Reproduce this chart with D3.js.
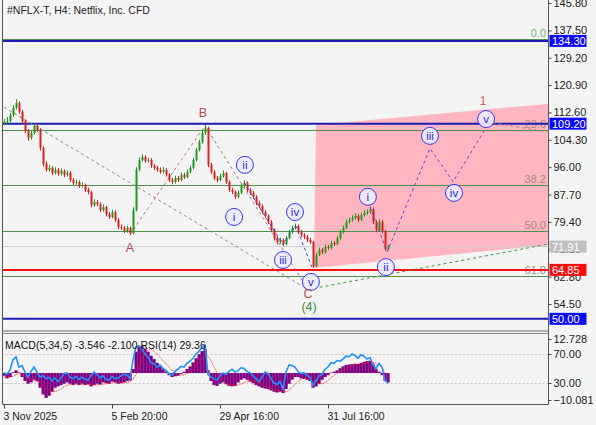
<!DOCTYPE html>
<html><head><meta charset="utf-8">
<script src="https://cdn.jsdelivr.net/npm/d3@7"></script>
<style>
body{margin:0;background:#f4f4f4;}
svg{display:block;font-family:"Liberation Sans",Arial,sans-serif;}
</style></head>
<body><svg id="c" width="596" height="425"></svg>
<script>
// ---------- DATA ----------
const firstOpen = 109.3;
const closes = [
109.7,110.0,111.8,114.0,115.5,112.8,110.0,107.0,104.9,106.4,
108.5,107.3,101.8,97.0,95.2,95.8,94.2,95.2,94.0,94.9,
93.7,94.3,92.1,91.2,91.5,90.3,90.6,89.1,88.5,84.5,
85.4,84.8,83.0,83.9,81.8,80.9,82.4,80.0,77.9,77.6,
76.6,77.6,76.0,83.0,95.2,98.2,99.1,97.9,98.2,96.4,
95.8,95.2,94.6,95.2,93.7,92.1,91.5,92.7,92.1,93.7,
93.0,94.6,95.8,98.2,101.2,103.6,106.4,107.9,96.7,94.6,
92.7,92.1,93.3,94.2,91.5,89.1,88.5,87.0,88.2,90.3,
91.2,89.1,88.2,87.0,85.1,84.2,82.4,81.2,79.4,76.9,
74.5,73.3,73.9,72.7,74.5,76.3,77.6,78.1,76.3,75.4,
74.8,73.9,73.3,66.0,69.4,70.9,70.2,71.8,71.5,73.0,
72.7,74.5,76.3,77.6,79.4,80.0,80.6,81.2,80.0,81.5,
82.1,82.4,83.3,79.4,76.9,79.4,76.6,71.2,71.91];
const highs = [
110.6,111.2,112.5,114.8,116.6,116.0,113.4,110.5,107.6,107.0,
109.3,109.0,107.8,102.3,97.8,96.7,96.3,96.0,95.8,95.6,
95.3,95.0,94.8,92.7,92.3,92.0,91.4,91.0,89.8,88.9,
86.3,86.0,85.3,84.7,84.3,82.4,83.1,82.9,80.5,78.6,
78.1,78.3,78.0,83.8,96.0,99.0,99.9,99.6,98.9,98.7,
97.0,96.4,95.9,96.0,95.7,94.2,92.7,93.4,93.3,94.4,
94.3,95.3,96.5,98.9,101.9,104.3,107.1,108.8,108.3,97.3,
95.1,93.4,94.0,95.0,94.6,92.0,89.8,89.0,88.9,91.0,
92.0,91.7,89.7,88.8,87.5,85.8,84.7,83.0,81.7,79.9,
77.4,75.1,74.6,74.4,75.2,77.0,78.3,78.9,78.6,76.9,
76.0,75.4,74.5,73.7,70.0,71.6,71.5,72.5,72.4,73.7,
73.6,75.2,77.0,78.3,80.1,80.8,81.4,82.0,81.8,82.2,
82.9,83.2,84.0,83.8,79.9,80.2,79.9,77.0,72.5];
const lows = [
108.7,109.2,109.6,111.3,113.5,112.2,109.2,106.3,104.0,104.4,
106.0,106.6,101.0,96.2,94.6,94.7,93.6,93.8,93.4,93.5,
93.0,93.2,91.5,90.6,90.7,89.7,89.8,88.5,87.8,83.8,
84.0,84.1,82.4,82.5,81.1,80.3,80.5,79.4,77.2,77.0,
76.0,76.1,75.4,75.6,82.6,94.8,97.7,97.3,97.4,95.8,
95.2,94.6,94.0,94.1,93.1,91.5,90.8,91.0,91.5,91.7,
92.4,92.6,94.1,95.4,97.8,100.8,103.1,105.8,96.0,94.0,
92.1,91.4,91.7,92.8,90.9,88.5,87.8,86.3,86.6,87.8,
89.8,88.5,87.6,86.4,84.5,83.6,81.8,80.6,78.8,76.3,
73.8,72.6,72.8,72.1,72.3,74.1,75.8,77.1,75.7,74.8,
74.2,73.3,72.7,65.4,65.6,69.0,69.6,69.8,70.9,71.0,
72.1,72.3,74.0,75.9,77.2,78.9,79.5,80.1,79.4,79.6,
81.0,81.6,81.9,78.8,76.3,76.5,76.0,70.6,70.8];
const macdHist = [
-1.0,-2.0,-1.5,0.3,1.0,0.2,-1.5,-3.0,-4.0,-3.5,
-2.5,-3.0,-5.5,-8.0,-9.3,-8.5,-7.0,-5.5,-5.0,-4.5,
-4.0,-3.5,-4.0,-4.5,-4.0,-4.5,-4.0,-4.5,-4.2,-5.0,
-4.5,-4.0,-4.3,-3.5,-3.8,-4.0,-3.2,-3.5,-4.0,-3.8,
-3.5,-3.0,-2.8,1.5,8.0,10.2,10.0,9.2,8.0,6.5,
5.2,3.8,2.5,1.5,0.5,-0.8,-1.5,-1.2,-1.0,-0.3,
0.5,1.5,2.5,4.0,5.5,7.0,8.2,9.0,1.0,-3.0,
-4.5,-4.8,-4.0,-3.5,-4.2,-4.8,-5.0,-4.8,-3.5,-2.5,
-2.0,-2.5,-3.2,-3.8,-4.5,-5.0,-5.5,-5.8,-6.0,-6.5,
-7.0,-7.3,-7.0,-7.5,-6.0,-4.0,-2.5,-1.5,-1.5,-2.0,
-2.2,-2.5,-3.0,-5.5,-5.0,-4.0,-2.5,-1.5,-0.8,0.2,
0.5,1.0,1.8,2.5,3.0,3.2,3.3,3.5,3.4,3.8,
4.2,4.5,4.6,3.5,1.5,0.5,-0.8,-3.0,-3.546];
const macdSignal = [
-1.5,-1.6,-1.6,-1.2,-0.6,-0.3,-0.4,-1.0,-1.8,-2.4,
-2.8,-3.1,-3.6,-4.5,-5.6,-6.5,-7.0,-6.9,-6.5,-5.9,
-5.2,-4.6,-4.3,-4.2,-4.1,-4.2,-4.2,-4.3,-4.3,-4.4,
-4.4,-4.4,-4.4,-4.2,-4.0,-3.9,-3.7,-3.6,-3.6,-3.7,
-3.7,-3.5,-3.3,-2.3,-0.5,2.2,5.0,7.2,8.6,8.8,
8.2,7.1,5.9,4.6,3.4,2.2,1.1,0.2,-0.4,-0.8,
-0.7,-0.3,0.4,1.3,2.4,3.8,5.1,6.4,6.3,4.6,
2.3,0.1,-1.6,-2.9,-4.0,-4.3,-4.5,-4.6,-4.5,-4.1,
-3.6,-3.1,-2.8,-2.8,-3.2,-3.8,-4.3,-4.9,-5.3,-5.8,
-6.2,-6.5,-6.8,-7.0,-7.0,-6.4,-5.4,-4.3,-3.1,-2.3,
-2.0,-2.0,-2.2,-3.0,-3.6,-4.0,-4.0,-3.7,-2.8,-1.7,
-0.8,-0.1,0.5,1.2,1.8,2.3,2.8,3.1,3.3,3.4,
3.6,3.9,4.1,4.1,3.6,2.9,1.8,0.1,-2.1];
const rsi = [
44,42,48,62,66,52,54,45,38,46,
52,45,38,40,36,38,33,37,32,37,
43,44,38,36,39,35,38,35,34,40,
45,42,37,40,35,34,39,36,37,40,
42,41,36,62,80,81,77,70,66,58,
57,52,55,50,47,43,41,46,49,53,
52,57,60,64,70,74,79,82,42,38,
36,34,40,44,42,46,49,45,47,51,
50,46,44,40,36,32,38,45,43,36,
30,28,32,22,45,55,54,52,46,43,
44,41,38,27,33,40,42,49,52,58,
57,61,60,63,67,66,70,68,64,69,
67,63,65,55,50,57,52,34,29.36];

const timeLabels = ["3 Nov 2025","5 Feb 20:00","29 Apr 16:00","31 Jul 16:00"];
const timeLabelBars = [0,36,72,108];
const priceTicks = [145.80,137.50,129.20,120.90,112.60,104.30,96.00,87.70,79.40,71.10,62.80,54.50];
const macdTicks = [12.728,-10.081];
const rsiTicks = [70,30];
const fibNames = ["0.0","23.6","38.2","50.0","61.8"];
const fibPrices = [134.8,107.3,90.5,76.6,63.0];
const blueLevels = [134.30,109.20,50.00];
const redLevel = 64.85;
const lastPrice = 71.91;

// projection zone (bar, price)
const zoneBars = [104,181.3,181.3,103.3];
const zonePrices = [108.8,115.2,72.4,65.4];

// wave structure (bar, price)
const trendBars = [0,101.3];   const trendPrices = [114.2,58.9];
const abBars = [42,67];        const abPrices = [75.6,108.6];
const bcBars = [67,101.3];     const bcPrices = [108.6,58.9];
const c4Bars = [101.3,181];    const c4Prices = [58.9,72.6];
const pastWaveBars = [80,93,97.2,102.7];      const pastWavePrices = [91.3,72.5,78.3,65.6];
const futWaveBars = [122,127.7,142,149.7,160.9]; const futWavePrices = [84.0,70.3,101.7,91.6,108.3];
const tailBars = [160.9,181];  const tailPrices = [109.8,106.7];

const pastLabels = ["i","ii","iii","iv","v"];
const pastLabelBars = [76.7,80.3,93,97,102.3];
const pastLabelPrices = [80.9,96.7,67.85,82.4,61.2];
const futLabels = ["i","ii","iii","iv","v"];
const futLabelBars = [121.3,127.3,142,150,160.7];
const futLabelPrices = [87.0,65.7,105.5,88.2,110.6];
const letterLabels = ["A","B","C","1"];
const letterBars = [42,66.3,101.3,159.7];
const letterPrices = [71.5,112.7,57.6,116.1];
const degreeLabel = "(4)";
const degreeBar = 101.7, degreePrice = 53.6;

// ---------- SCALES ----------
const svg = d3.select("#c");
const L = 2.5, R = 548.5, mainBottom = 331.5, macdTop = 333.5, macdBottom = 404.5;
const x = d3.scaleLinear().domain([0,181]).range([4,547]);
const y = d3.scaleLinear().domain([54.5,145.8]).range([304,3]);
const yM = d3.scaleLinear().domain([-10.081,12.728]).range([400,339]);
const yR = d3.scaleLinear().domain([30,70]).range([383,354]);

svg.append("rect").attr("width",596).attr("height",425).attr("fill","#f4f4f4");
const defs = svg.append("defs");
defs.append("clipPath").attr("id","cm").append("rect").attr("x",L).attr("y",0).attr("width",R-L).attr("height",mainBottom);
defs.append("clipPath").attr("id","cd").append("rect").attr("x",L).attr("y",macdTop).attr("width",R-L).attr("height",macdBottom-macdTop);

const gm = svg.append("g").attr("clip-path","url(#cm)");
const pt = (b,p)=>[x(b),y(p)];

// zone
gm.append("path").attr("d", d3.line()(zoneBars.map((b,i)=>pt(b,zonePrices[i]))) + "Z")
  .attr("fill","#ffb6c1");

// current price line
gm.append("line").attr("x1",L).attr("x2",R).attr("y1",y(lastPrice)).attr("y2",y(lastPrice))
  .attr("stroke","#cfcfcf").attr("stroke-width",1);

// fib lines
fibPrices.forEach((p,i)=>{
  gm.append("line").attr("x1",L).attr("x2",R).attr("y1",Math.round(y(p))+0.5).attr("y2",Math.round(y(p))+0.5)
    .attr("stroke","#4f8f4f").attr("stroke-width",1);
  gm.append("text").attr("x",546).attr("y",Math.round(y(p))-2).attr("text-anchor","end")
    .attr("font-size",11).attr("fill", i===0 ? "#6fb36f" : (i===4 ? "#7d9d7d" : "#a08a7a")).text(fibNames[i]);
});

// horizontal levels
blueLevels.forEach(p=>{
  gm.append("line").attr("x1",L).attr("x2",R).attr("y1",y(p)).attr("y2",y(p))
    .attr("stroke","#1c1cb0").attr("stroke-width",2);
});
gm.append("line").attr("x1",L).attr("x2",R).attr("y1",y(redLevel)).attr("y2",y(redLevel))
  .attr("stroke","#ff1010").attr("stroke-width",2);

// dashed structure lines
const ln = d3.line();
function dashed(bars,prices,color,dash){
  gm.append("path").attr("d",ln(bars.map((b,i)=>pt(b,prices[i]))))
    .attr("fill","none").attr("stroke",color).attr("stroke-width",1).attr("stroke-dasharray",dash||"3,3");
}
dashed(trendBars,trendPrices,"#8a8a8a");
dashed(abBars,abPrices,"#b77070");
dashed(bcBars,bcPrices,"#a07878");
dashed(c4Bars,c4Prices,"#3f9a3f");
dashed(tailBars,tailPrices,"#b07878");

// candles
const opens = closes.map((c,i)=> i===0 ? firstOpen : closes[i-1]);
const gc = gm.append("g");
closes.forEach((c,i)=>{
  const o = opens[i], up = c >= o, col = up ? "#1f9a1f" : "#e01e1e";
  const cx = Math.round(x(i));
  gc.append("line").attr("x1",cx+0.5).attr("x2",cx+0.5).attr("y1",y(highs[i])).attr("y2",y(lows[i]))
    .attr("stroke",col).attr("stroke-width",1);
  const top = y(Math.max(o,c)), bot = y(Math.min(o,c));
  gc.append("rect").attr("x",cx-0.5).attr("width",2).attr("y",top).attr("height",Math.max(1,bot-top)).attr("fill",col);
});

// wave paths
dashed(pastWaveBars,pastWavePrices,"#3a3ae6");
dashed(futWaveBars,futWavePrices,"#5a3ee0");

// circle labels
function circ(t,b,p){
  const g = gm.append("g").attr("transform",`translate(${x(b)},${y(p)})`);
  g.append("circle").attr("r",8.5).attr("fill","rgba(236,236,255,0.9)").attr("stroke","#3535f0").attr("stroke-width",1);
  g.append("text").attr("text-anchor","middle").attr("dy","0.36em").attr("font-size",11.5)
    .attr("fill","#2a2ae0").text(t);
}
pastLabels.forEach((t,i)=>circ(t,pastLabelBars[i],pastLabelPrices[i]));
futLabels.forEach((t,i)=>circ(t,futLabelBars[i],futLabelPrices[i]));

letterLabels.forEach((t,i)=>{
  gm.append("text").attr("x",x(letterBars[i])).attr("y",y(letterPrices[i])).attr("dy","0.36em")
    .attr("text-anchor","middle").attr("font-size",12.5).attr("fill", t==="1" ? "#c86a6a" : "#b84c4c").text(t);
});
gm.append("text").attr("x",x(degreeBar)).attr("y",y(degreePrice)).attr("dy","0.36em")
  .attr("text-anchor","middle").attr("font-size",12.5).attr("fill","#3a8f3a").text(degreeLabel);

// ---------- MACD / RSI ----------
const gd = svg.append("g").attr("clip-path","url(#cd)");
rsiTicks.forEach(v=>{
  gd.append("line").attr("x1",L).attr("x2",R).attr("y1",Math.round(yR(v))+0.5).attr("y2",Math.round(yR(v))+0.5)
    .attr("stroke","#c4c4c4").attr("stroke-dasharray","2,2");
});
macdHist.forEach((v,i)=>{
  const y0 = yM(0), y1 = yM(v);
  gd.append("rect").attr("x",x(i)-1.5).attr("width",3.2).attr("y",Math.min(y0,y1)).attr("height",Math.abs(y1-y0)).attr("fill","#800080");
});
gd.append("path").attr("d",d3.line().x((d,i)=>x(i)).y(d=>yM(d))(macdSignal))
  .attr("fill","none").attr("stroke","#ff2020").attr("stroke-width",1).attr("stroke-dasharray","1,1");
gd.append("path").attr("d",d3.line().x((d,i)=>x(i)).y(d=>yR(d))(rsi))
  .attr("fill","none").attr("stroke","#1e90ff").attr("stroke-width",1.6);
svg.append("text").attr("x",5).attr("y",349).attr("font-size",10.5).attr("fill","#111")
  .text("MACD(5,34,5) -3.546 -2.100 RSI(14) 29.36");

// ---------- FRAMES ----------
svg.append("line").attr("x1",L).attr("x2",L).attr("y1",0).attr("y2",macdBottom).attr("stroke","#555");
svg.append("line").attr("x1",R).attr("x2",R).attr("y1",0).attr("y2",macdBottom).attr("stroke","#555");
svg.append("line").attr("x1",L).attr("x2",R).attr("y1",mainBottom-0.5).attr("y2",mainBottom-0.5).attr("stroke","#6a6a6a").attr("stroke-width",1);
svg.append("line").attr("x1",L).attr("x2",R).attr("y1",macdTop).attr("y2",macdTop).attr("stroke","#8a8a8a");
svg.append("line").attr("x1",L).attr("x2",R).attr("y1",macdBottom).attr("y2",macdBottom).attr("stroke","#555");

// price axis
const ay = svg.append("g").attr("transform",`translate(${R},0)`)
  .call(d3.axisRight(y).tickValues(priceTicks).tickFormat(d3.format(".2f")).tickSize(3).tickPadding(2));
ay.select(".domain").remove();
ay.selectAll("text").attr("font-size",11).attr("fill","#222").attr("font-family","Liberation Sans, Arial, sans-serif");
ay.selectAll("line").attr("stroke","#444");

// macd axis
const am = svg.append("g").attr("transform",`translate(${R},0)`)
  .call(d3.axisRight(yM).tickValues(macdTicks).tickFormat(d3.format(".3f")).tickSize(3).tickPadding(2));
am.select(".domain").remove();
const ar = svg.append("g").attr("transform",`translate(${R},0)`)
  .call(d3.axisRight(yR).tickValues(rsiTicks).tickFormat(d3.format(".2f")).tickSize(3).tickPadding(2));
ar.select(".domain").remove();
[am,ar].forEach(a=>{a.selectAll("text").attr("font-size",11).attr("fill","#222").attr("font-family","Liberation Sans, Arial, sans-serif");a.selectAll("line").attr("stroke","#444");});

// price boxes
function box(p,fill,txt){
  const yy = y(p);
  svg.append("rect").attr("x",549.5).attr("y",yy-6).attr("width",37).attr("height",12).attr("fill",fill);
  svg.append("text").attr("x",552).attr("y",yy).attr("dy","0.36em").attr("font-size",11).attr("fill","#fff").text(txt);
}
blueLevels.forEach(p=>box(p,"#0a0aff",d3.format(".2f")(p)));
box(redLevel,"#ff0a0a",d3.format(".2f")(redLevel));
box(lastPrice,"#c0c0c0",d3.format(".2f")(lastPrice));

// time axis
const at = svg.append("g").attr("transform",`translate(0,${macdBottom})`)
  .call(d3.axisBottom(x).tickValues(timeLabelBars).tickFormat((d,i)=>timeLabels[i]).tickSize(4).tickPadding(4));
at.select(".domain").remove();
at.selectAll("text").attr("text-anchor","start").attr("dx","-1").attr("font-size",10.5).attr("fill","#222").attr("font-family","Liberation Sans, Arial, sans-serif");
at.selectAll("line").attr("stroke","#444");

// title
svg.append("text").attr("x",7).attr("y",14).attr("font-size",10.5).attr("fill","#222")
  .text("#NFLX-T, H4:  Netflix, Inc. CFD");
</script>
</body></html>
